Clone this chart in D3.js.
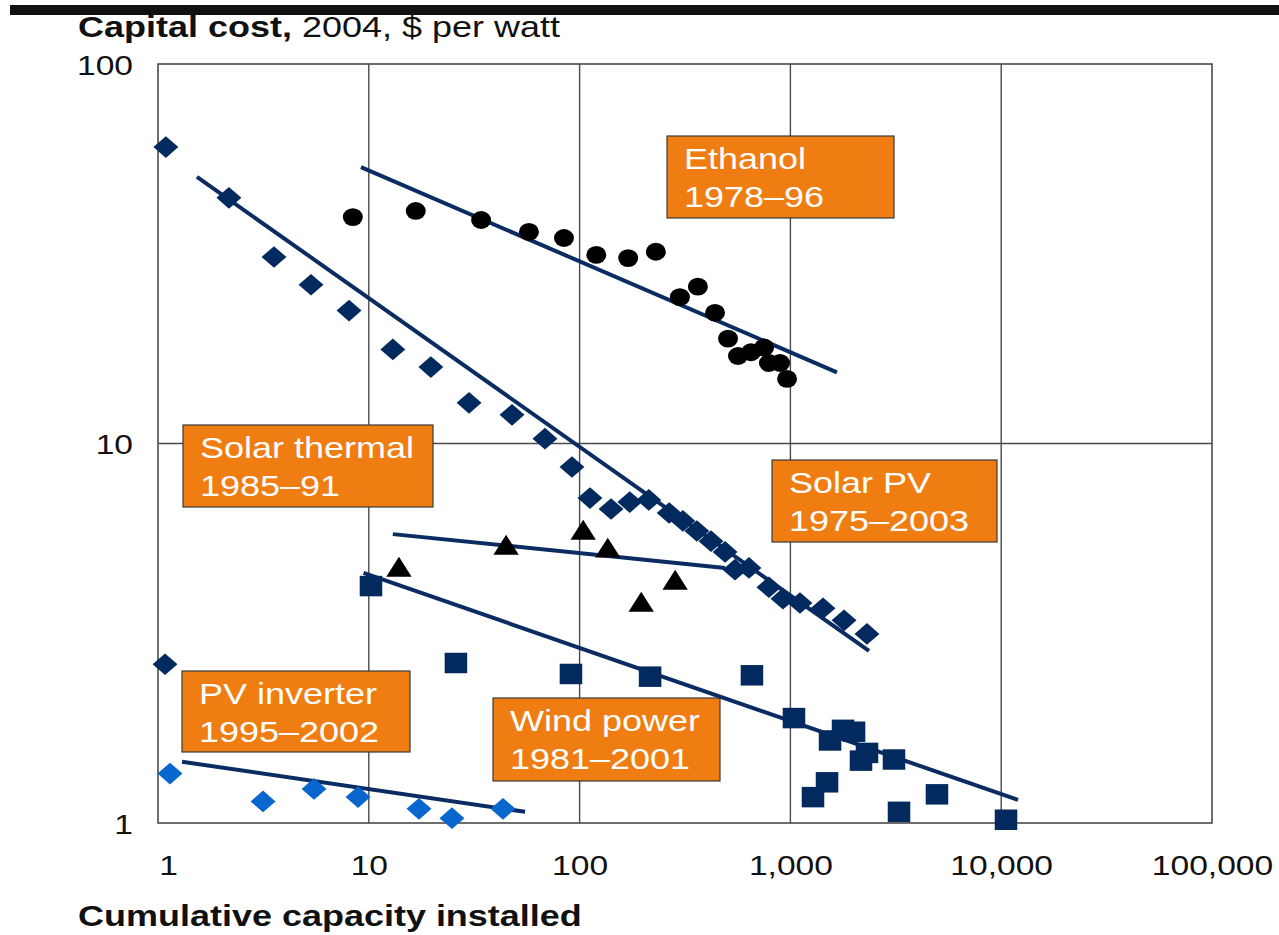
<!DOCTYPE html>
<html>
<head>
<meta charset="utf-8">
<script src="https://cdn.jsdelivr.net/npm/d3@7"></script>
<style>
  html, body { margin: 0; padding: 0; background: #fff; }
  svg { display: block; font-family: "Liberation Sans", Arial, sans-serif; }
</style>
</head>
<body>
<svg id="chart" width="1279" height="935"></svg>
<script>
// ---------- DATA ----------
const xTickValues = [1, 10, 100, 1000, 10000, 100000];
const xTickLabels = ["1", "10", "100", "1,000", "10,000", "100,000"];
const yTickValues = [1, 10, 100];
const yTickLabels = ["1", "10", "100"];

// Ethanol 1978–96 (black circles)
const ethanolX = [8.4, 16.7, 34.1, 57.5, 84.3, 120, 170, 230, 299, 364, 439, 506, 564, 650, 750, 791, 893, 964];
const ethanolY = [39.5, 41.0, 38.8, 36.1, 34.8, 31.4, 30.8, 32.0, 24.3, 25.9, 22.1, 18.9, 17.0, 17.4, 17.9, 16.3, 16.3, 14.8];
const ethanolFitX = [9.18, 1663];
const ethanolFitY = [53.5, 15.4];

// Solar PV 1975–2003 (navy diamonds)
const solarPVX = [1.09, 2.17, 3.55, 5.32, 8.06, 13.0, 19.7, 29.9, 47.8, 68.5, 92.0, 112, 141, 173, 213, 266, 309, 360, 420, 490, 546, 636, 791, 922, 1110, 1428, 1797, 2308];
const solarPVY = [60.4, 44.4, 31.0, 26.2, 22.4, 17.7, 15.9, 12.8, 11.9, 10.3, 8.67, 7.18, 6.72, 7.01, 7.10, 6.56, 6.25, 5.88, 5.53, 5.18, 4.65, 4.70, 4.18, 3.90, 3.80, 3.68, 3.42, 3.15];
const solarPVFitX = [1.53, 2360];
const solarPVFitY = [50.4, 2.84];

// Lone navy diamond near the left axis
const extraX = [1.08];
const extraY = [2.62];

// Solar thermal 1985–91 (black triangles)
const thermalX = [13.9, 44.8, 104, 136, 196, 284];
const thermalY = [4.64, 5.30, 5.81, 5.21, 3.75, 4.29];
const thermalFitX = [13.0, 490];
const thermalFitY = [5.77, 4.70];

// Wind power 1981–2001 (navy squares)
const windX = [10.24, 25.9, 91.0, 216, 657, 1040, 1280, 1492, 1542, 1777, 2004, 2162, 2309, 3100, 3275, 4958, 10540];
const windY = [4.21, 2.64, 2.47, 2.43, 2.45, 1.89, 1.17, 1.28, 1.65, 1.76, 1.74, 1.46, 1.53, 1.47, 1.07, 1.19, 1.02];
const windFitX = [9.44, 12020];
const windFitY = [4.56, 1.15];

// PV inverter 1995–2002 (blue diamonds)
const inverterX = [1.14, 3.15, 5.50, 8.89, 17.3, 24.8, 43.3];
const inverterY = [1.35, 1.14, 1.23, 1.17, 1.09, 1.03, 1.09];
const inverterFitX = [1.30, 55.1];
const inverterFitY = [1.45, 1.07];

// Annotation labels
const labelEthanol = ["Ethanol", "1978–96"];
const labelThermal = ["Solar thermal", "1985–91"];
const labelPV = ["Solar PV", "1975–2003"];
const labelInverter = ["PV inverter", "1995–2002"];
const labelWind = ["Wind power", "1981–2001"];

const yTitleBold = "Capital cost,";
const yTitleRest = " 2004, $ per watt";
const xTitle = "Cumulative capacity installed";

// ---------- DRAW ----------
const svg = d3.select("#chart");
const STRETCH = 1.2;
const NAVY = "#032a5f";
const LINE = "#0a2c62";
const BLUE = "#0866cc";
const ORANGE = "#ef7d12";
const GRID = "#4a4a4a";

const plot = { left: 158, right: 1212, top: 64, bottom: 823 };
const x = d3.scaleLog().domain([1, 100000]).range([plot.left, plot.right]);
const y = d3.scaleLog().domain([1, 100]).range([plot.bottom, plot.top]);

// top black bar
svg.append("rect").attr("x", 10).attr("y", 5).attr("width", 1269).attr("height", 10).attr("fill", "#111");

// grid lines
const grid = svg.append("g");
grid.selectAll("line.v").data(xTickValues.slice(1, -1)).join("line")
  .attr("x1", d => x(d)).attr("x2", d => x(d))
  .attr("y1", plot.top).attr("y2", plot.bottom)
  .attr("stroke", GRID).attr("stroke-width", 1.4);
grid.selectAll("line.h").data(yTickValues.slice(1, -1)).join("line")
  .attr("x1", plot.left).attr("x2", plot.right)
  .attr("y1", d => y(d)).attr("y2", d => y(d))
  .attr("stroke", GRID).attr("stroke-width", 1.4);
grid.append("rect")
  .attr("x", plot.left).attr("y", plot.top)
  .attr("width", plot.right - plot.left).attr("height", plot.bottom - plot.top)
  .attr("fill", "none").attr("stroke", GRID).attr("stroke-width", 1.6);

// axes
const xAxis = d3.axisBottom(x).tickValues(xTickValues).tickSize(0)
  .tickFormat((d, i) => xTickLabels[i]);
const gx = svg.append("g").attr("transform", `translate(0,${plot.bottom})`).call(xAxis);
gx.select(".domain").remove();
gx.selectAll("text")
  .attr("y", null).attr("dy", null)
  .attr("font-size", 28).attr("fill", "#111")
  .attr("font-family", "Liberation Sans, Arial, sans-serif")
  .attr("text-anchor", "middle")
  .attr("transform", (d, i) => `translate(${i === 0 ? 10 : 0},52) scale(${STRETCH},1)`);

const yAxis = d3.axisLeft(y).tickValues(yTickValues).tickSize(0)
  .tickFormat((d, i) => yTickLabels[i]);
const gy = svg.append("g").attr("transform", `translate(${plot.left},0)`).call(yAxis);
gy.select(".domain").remove();
gy.selectAll("text")
  .attr("x", null).attr("dy", null)
  .attr("font-size", 28).attr("fill", "#111")
  .attr("font-family", "Liberation Sans, Arial, sans-serif")
  .attr("text-anchor", "end")
  .attr("transform", `translate(-25,10) scale(${STRETCH},1)`);

// titles
const yt = svg.append("text")
  .attr("transform", `translate(78,37) scale(1.22,1)`)
  .attr("font-size", 29.5).attr("fill", "#111");
yt.append("tspan").attr("font-weight", "bold").text(yTitleBold);
yt.append("tspan").text(yTitleRest);

svg.append("text")
  .attr("transform", `translate(78,926) scale(1.22,1)`)
  .attr("font-size", 29.5).attr("font-weight", "bold").attr("fill", "#111")
  .text(xTitle);

// annotation boxes
function box(lines, bx, by, w, h) {
  const g = svg.append("g").attr("transform", `translate(${bx},${by})`);
  g.append("rect").attr("width", w).attr("height", h)
    .attr("fill", ORANGE).attr("stroke", "#3a3a3a").attr("stroke-width", 1.2);
  lines.forEach((t, i) => {
    g.append("text")
      .attr("transform", `translate(17,${33 + i * 38}) scale(1.22,1)`)
      .attr("font-size", 29.5).attr("fill", "#fff").text(t);
  });
}
box(labelEthanol, 667, 136, 227, 82);
box(labelThermal, 183, 425, 250, 82);
box(labelPV, 772, 460, 225, 82);
box(labelInverter, 182, 671, 228, 81);
box(labelWind, 493, 698, 227, 83);

// trend lines
const lineGen = d3.line().x(d => x(d[0])).y(d => y(d[1]));
const fits = [
  [ethanolFitX, ethanolFitY],
  [solarPVFitX, solarPVFitY],
  [thermalFitX, thermalFitY],
  [windFitX, windFitY],
  [inverterFitX, inverterFitY]
];
fits.forEach(([fx, fy]) => {
  svg.append("path")
    .attr("d", lineGen(d3.zip(fx, fy)))
    .attr("fill", "none").attr("stroke", LINE).attr("stroke-width", 4);
});

// markers
function markers(xs, ys, type, size, fill, tf) {
  svg.append("g").selectAll("path").data(d3.zip(xs, ys)).join("path")
    .attr("d", d3.symbol().type(type).size(size)())
    .attr("transform", d => `translate(${x(d[0])},${y(d[1])}) ${tf}`)
    .attr("fill", fill);
}
markers(solarPVX, solarPVY, d3.symbolSquare, 235, NAVY, "scale(1.15,1) rotate(45)");
markers(extraX, extraY, d3.symbolSquare, 235, NAVY, "scale(1.15,1) rotate(45)");
markers(inverterX, inverterY, d3.symbolSquare, 235, BLUE, "scale(1.15,1) rotate(45)");
markers(windX, windY, d3.symbolSquare, 420, NAVY, "scale(1.1,1)");
markers(thermalX, thermalY, d3.symbolTriangle, 230, "#000", "scale(1.1,1)");
markers(ethanolX, ethanolY, d3.symbolCircle, 250, "#000", "scale(1.12,1)");
</script>
</body>
</html>
